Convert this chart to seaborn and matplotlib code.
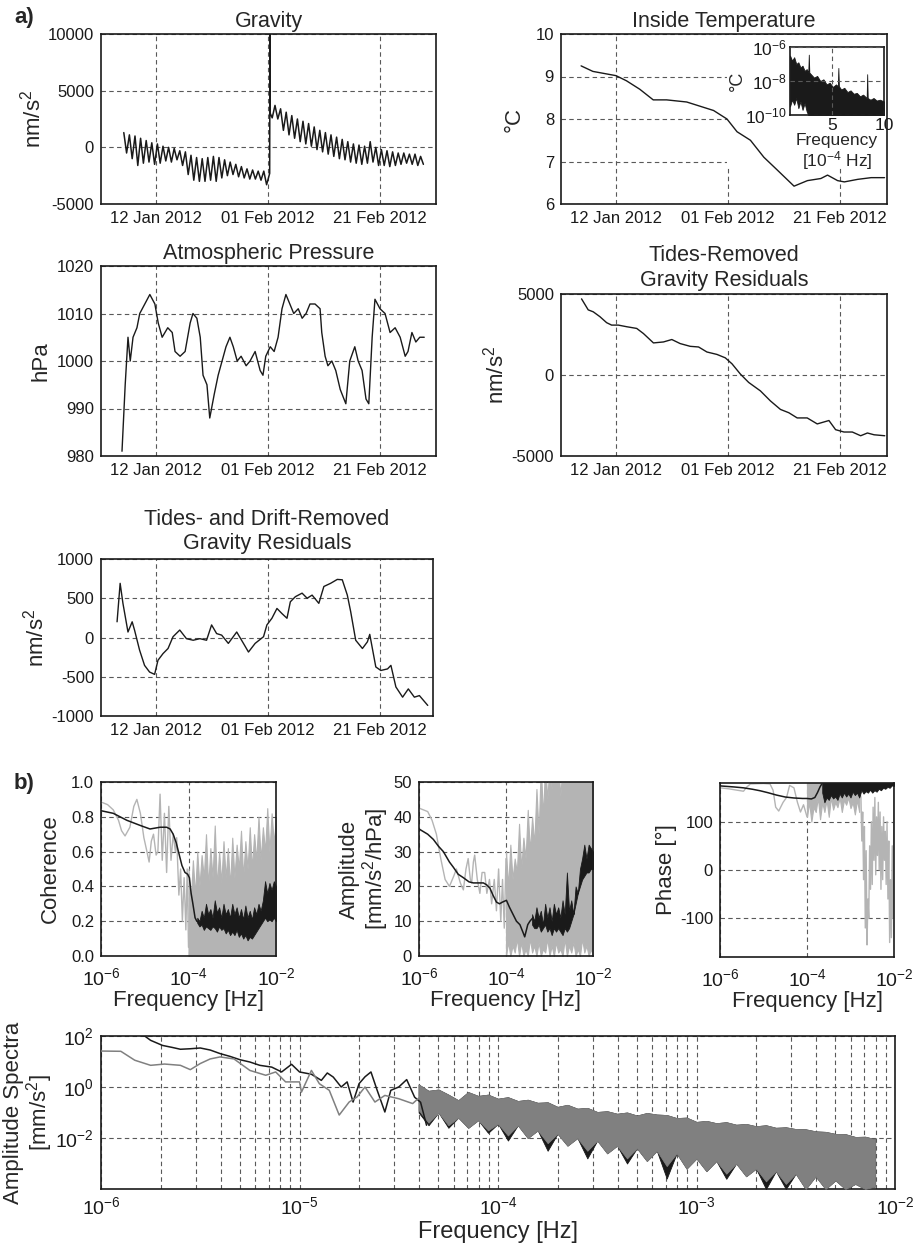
import numpy as np
import pandas as pd
import matplotlib
matplotlib.use("Agg")
import matplotlib.pyplot as plt
import matplotlib.dates as mdates
from matplotlib.ticker import FixedLocator, LogLocator, NullLocator, NullFormatter, FormatStrFormatter
from matplotlib.patches import Rectangle
import seaborn as sns

# ------------------------------------------------------------------ data
REF_DATE = "2012-01-12"          # day offsets below are relative to this date
date_ticks = ["2012-01-12", "2012-02-01", "2012-02-21"]

# Gravity [nm/s^2]: daily tidal peaks / troughs before and after the step
grav_pre_days = list(range(-6, 20))
grav_pre_peaks = [1300, 1100, 1000, 800, 600, 400, 300, 100, 0, -100,
                  -300, -400, -700, -900, -1000, -900, -800, -900, -1100, -1300,
                  -1500, -1700, -1900, -2000, -2100, -2100]
grav_pre_troughs = [-500, -1000, -1600, -1400, -1300, -1500, -1400, -1200, -1300, -1100,
                    -1600, -2400, -2900, -3000, -3000, -2900, -3000, -2700, -2500, -2400,
                    -2600, -2700, -2800, -2800, -2900, -3300]
grav_step_t = [20.3, 20.35, 20.4, 20.75]
grav_step_v = [-2300, 10000, 3000, 2600]
grav_post_days = list(range(21, 48))
grav_post_peaks = [3700, 3400, 3100, 2800, 2500, 2300, 2100, 1800, 1500, 1300,
                   1100, 900, 700, 500, 300, 200, 100, 500, 0, -200,
                   -300, -400, -500, -500, -600, -600, -800]
grav_post_troughs = [2500, 1500, 1100, 800, 500, 300, 100, -200, -400, -600,
                     -800, -1000, -1100, -1300, -1400, -1500, -1400, -1300, -1600, -1600,
                     -1700, -1600, -1500, -1400, -1500, -1600, -1500]

# Inside temperature [degC]
temp_t = [-6.23, -4.13, 0, 1.86, 4.25, 6.65, 9.04, 12.63, 15.03, 17.43, 19.82, 21.62,
          24.01, 26.41, 28.8, 31.8, 34.19, 36.59, 37.78, 39.58, 40.78, 43.17, 45.57, 47.96]
temp_v = [9.25, 9.12, 9.02, 8.9, 8.7, 8.45, 8.45, 8.4, 8.3, 8.2, 8.0, 7.7,
          7.5, 7.1, 6.8, 6.42, 6.55, 6.6, 6.68, 6.55, 6.52, 6.58, 6.62, 6.62]

# Inset: temperature spectrum (freq in 1e-4 Hz, log10 of degC) envelopes
inset_f = [1.0, 1.2, 1.4, 1.6, 1.8, 2.0, 2.2, 2.4, 2.6, 2.75, 2.8, 2.85, 3.0, 3.3, 3.6,
           3.9, 4.2, 4.5, 4.8, 5.1, 5.4, 5.58, 5.63, 5.68, 5.9, 6.2, 6.5, 6.8, 7.1, 7.4,
           7.7, 8.0, 8.34, 8.39, 8.44, 8.7, 9.0, 9.3, 9.6, 10.0]
inset_hi = [-6.5, -6.8, -6.6, -7.0, -6.9, -7.2, -7.1, -7.4, -7.3, -7.5, -6.45, -7.5, -7.6, -7.8, -7.7,
            -8.0, -7.9, -8.2, -8.1, -8.35, -8.2, -8.3, -7.23, -8.3, -8.5, -8.4, -8.65, -8.55, -8.75, -8.7,
            -8.9, -8.8, -9.0, -7.6, -9.0, -9.1, -9.0, -9.15, -9.1, -9.2]
inset_lo = [-9.5, -9.1, -9.4, -9.0, -9.6, -9.2, -9.7, -9.3, -9.8, -10, -10, -10, -10, -10, -10,
            -10, -10, -10, -10, -10, -10, -10, -10, -10, -10, -10, -10, -10, -10, -10,
            -10, -10, -10, -10, -10, -10, -10, -10, -10, -10]

# Atmospheric pressure [hPa]
pres_t = [-6.07, -5.5, -5.0, -4.6, -4.1, -3.4, -2.9, -2.0, -1.1, -0.2, 0.4, 1.1, 2.1, 2.9, 3.4,
          4.3, 5.2, 6.1, 6.6, 7.3, 7.9, 8.4, 9.1, 9.6, 10.4, 11.1, 11.8, 12.5, 13.2, 13.8,
          14.5, 15.2, 16.1, 16.8, 17.7, 18.6, 19.1, 19.6, 20.4, 21.1, 21.8, 22.5, 23.2, 23.9, 24.6,
          25.4, 26.1, 26.8, 27.5, 28.4, 29.3, 29.6, 30.2, 30.7, 31.4, 32.1, 32.9, 33.9, 34.6, 35.5,
          36.1, 36.8, 37.5, 38.0, 38.6, 39.1, 40.0, 40.9, 41.8, 42.7, 43.6, 44.5, 45.0, 45.7, 46.4,
          47.1, 47.9]
pres_v = [981, 995, 1005, 1000, 1005, 1007, 1010, 1012, 1014, 1012, 1008, 1005, 1007, 1006, 1002,
          1001, 1002, 1008, 1010, 1009, 1005, 997, 995, 988, 993, 997, 1000, 1003, 1005, 1003,
          1000, 1001, 999, 1000, 1002, 998, 997, 1001, 1003, 1002, 1005, 1011, 1014, 1012, 1010,
          1011, 1009, 1010, 1012, 1012, 1011, 1006, 1001, 999, 1000, 998, 994, 991, 1000, 1003,
          1000, 998, 992, 991, 1005, 1013, 1011, 1010, 1006, 1007, 1005, 1001, 1002, 1006, 1004,
          1005, 1005]

# Tides-removed gravity residuals [nm/s^2]
tr_t = [-6.15, -4.96, -4.06, -2.87, -1.67, -0.78, 0.42, 1.91, 3.7, 4.9, 6.69, 8.48, 9.97, 11.46,
        13.25, 14.75, 16.24, 18.03, 19.52, 20.72, 22.21, 23.7, 25.79, 27.58, 29.37, 30.87, 32.36,
        34.15, 35.94, 38.03, 39.22, 40.72, 42.21, 43.7, 44.9, 46.09, 48.0]
tr_v = [4700, 4020, 3900, 3600, 3230, 3080, 3080, 2980, 2875, 2560, 1980, 2040, 2190, 1940,
        1770, 1730, 1420, 1270, 1060, 690, 60, -460, -980, -1600, -2125, -2330, -2650,
        -2650, -3020, -2810, -3375, -3520, -3520, -3750, -3580, -3690, -3750]

# Tides- and drift-removed gravity residuals [nm/s^2]
td_t = [-6.95, -6.4, -5.9, -5.0, -4.25, -3.83, -2.93, -2.04, -1.14, -0.24, 0.36, 1.26, 2.16, 3.05,
        4.25, 5.45, 6.65, 7.84, 9.04, 9.94, 10.84, 11.74, 12.93, 14.43, 15.63, 16.53, 17.72, 19.22,
        19.82, 20.72, 21.62, 22.51, 23.41, 24.01, 24.91, 26.11, 27.01, 27.9, 29.1, 30.0, 31.2, 32.4,
        33.29, 34.19, 34.79, 35.69, 36.89, 37.78, 38.2, 39.28, 40.18, 41.38, 41.98, 42.87, 44.07,
        45.09, 46.17, 47.07, 48.56]
td_v = [200, 690, 435, 70, 200, 95, -160, -355, -440, -470, -290, -205, -140, 10,
        95, -15, -35, -15, -35, 160, 50, 30, -75, 70, -75, -185, -75, 10,
        160, 245, 370, 305, 245, 455, 520, 565, 500, 540, 435, 650, 690, 740,
        735, 540, 330, -35, -140, -55, 40, -375, -420, -400, -355, -630, -760,
        -655, -760, -740, -865]

# ---- b) transfer function (frequencies as log10 Hz)
coh_gray_lf = [-6.0, -5.85, -5.72, -5.6, -5.53, -5.45, -5.34, -5.25, -5.18, -5.1, -5.02, -4.95,
               -4.9, -4.85, -4.8, -4.74, -4.7, -4.65, -4.6, -4.55, -4.5, -4.45, -4.4, -4.35,
               -4.3, -4.27, -4.22, -4.18, -4.14, -4.1, -4.06, -4.03, -4.0]
coh_gray_v = [0.885, 0.87, 0.84, 0.78, 0.72, 0.69, 0.74, 0.86, 0.9, 0.82, 0.68, 0.6,
              0.54, 0.66, 0.7, 0.58, 0.6, 0.93, 0.55, 0.82, 0.48, 0.86, 0.55, 0.7,
              0.6, 0.68, 0.35, 0.5, 0.2, 0.45, 0.15, 0.5, 0.05]
coh_gray_band_range = (-4.0, -2.0)
coh_gray_band_hi = [0.5, 0.3, 0.55, 0.35, 0.6, 0.4, 0.58, 0.45, 0.7, 0.4, 0.62, 0.45, 0.75, 0.4,
                    0.6, 0.42, 0.66, 0.45, 0.62, 0.4, 0.68, 0.45, 0.64, 0.5, 0.72, 0.45, 0.66,
                    0.5, 0.74, 0.5, 0.7, 0.55, 0.8, 0.55, 0.74, 0.6, 0.85, 0.6, 0.82, 0.65, 0.8]
coh_blk_lf = [-6.0, -5.72, -5.41, -5.1, -4.88, -4.65, -4.5, -4.42, -4.35, -4.28, -4.23, -4.15,
              -4.08, -4.02, -3.98, -3.94, -3.9, -3.85, -3.81, -3.75]
coh_blk_v = [0.835, 0.82, 0.78, 0.75, 0.73, 0.74, 0.74, 0.73, 0.7, 0.65, 0.6, 0.52,
             0.48, 0.47, 0.45, 0.36, 0.3, 0.22, 0.2, 0.19]
coh_blk_band_range = (-3.8, -2.0)
coh_blk_band_hi = [0.22, 0.2, 0.26, 0.22, 0.3, 0.24, 0.27, 0.22, 0.32, 0.25, 0.28, 0.22, 0.3,
                   0.24, 0.27, 0.22, 0.3, 0.24, 0.28, 0.22, 0.27, 0.21, 0.29, 0.22, 0.26, 0.21,
                   0.28, 0.24, 0.3, 0.26, 0.32, 0.43, 0.36, 0.42, 0.38, 0.43, 0.4]
coh_blk_band_lo = [0.19, 0.17, 0.18, 0.15, 0.17, 0.16, 0.15, 0.17, 0.16, 0.14, 0.17, 0.15, 0.16,
                   0.13, 0.15, 0.12, 0.14, 0.12, 0.15, 0.11, 0.13, 0.1, 0.12, 0.09, 0.11, 0.1,
                   0.12, 0.14, 0.16, 0.18, 0.2, 0.22, 0.2, 0.21, 0.2, 0.22, 0.2]

amp_gray_lf = [-6.0, -5.8, -5.7, -5.6, -5.5, -5.4, -5.3, -5.2, -5.14, -5.05, -4.98, -4.92,
               -4.87, -4.82, -4.79, -4.75, -4.72, -4.66, -4.6, -4.55, -4.49, -4.44, -4.38,
               -4.33, -4.27, -4.22, -4.17, -4.12, -4.08, -4.04, -4.0]
amp_gray_v = [42.5, 41.5, 39, 35, 28, 22, 20, 23, 25, 21, 19, 25,
              28, 22, 21, 27, 29, 22, 18, 24, 24, 18, 22,
              15, 22, 13, 25, 10, 22, 8, 28]
amp_gray_band_range = (-4.0, -2.0)
amp_gray_band_hi = [30, 20, 32, 22, 28, 24, 38, 25, 34, 28, 42, 30, 40, 32, 48, 35, 55, 40,
                    55, 45, 55, 48, 55, 50, 55, 46, 55, 50, 55, 48, 55, 52, 55, 50, 55, 52,
                    55, 50, 55, 52, 55]
amp_gray_band_lo = [0, 4, 0, 3, 1, 5, 0, 4, 0, 2, 0, 5, 1, 3, 0, 4, 0, 2, 1, 5, 0, 3, 0, 4,
                    1, 2, 0, 5, 0, 3, 1, 4, 0, 2, 0, 5, 1, 3, 0, 2, 0]
amp_blk_lf = [-6.0, -5.8, -5.67, -5.55, -5.44, -5.3, -5.21, -5.1, -4.98, -4.85, -4.75, -4.6,
              -4.52, -4.45, -4.37, -4.3, -4.22, -4.15, -4.08, -3.99, -3.92, -3.84, -3.76,
              -3.68, -3.6, -3.57, -3.5, -3.45, -3.38]
amp_blk_v = [36.5, 35, 33.5, 31.5, 30, 27, 25.5, 23.5, 22.5, 21.3, 21, 21,
             21, 20.5, 19.5, 17.5, 15.5, 15, 15.5, 16, 14, 12, 10,
             9, 6.5, 5.5, 9, 10, 11]
amp_blk_band_range = (-3.4, -2.0)
amp_blk_band_hi = [12, 10, 14, 11, 13, 9, 15, 11, 14, 10, 15, 12, 14, 11, 16, 12, 24, 13, 16,
                   12, 20, 18, 25, 28, 32, 28, 32, 31, 30]
amp_blk_band_lo = [9, 8, 8, 9, 7, 8, 9, 7, 8, 6, 8, 7, 8, 7, 6, 8, 7, 8, 10, 12, 15, 18, 20,
                   22, 23, 24, 24, 25, 25]

ph_blk_lf = [-6.0, -5.7, -5.46, -5.25, -5.08, -4.9, -4.7, -4.5, -4.3, -4.1, -4.0, -3.9,
             -3.82, -3.76, -3.7, -3.66]
ph_blk_v = [174, 172, 170, 167, 164, 160, 155, 151, 149, 148, 148, 147,
            150, 160, 172, 178]
ph_blk_band_range = (-3.65, -2.0)
ph_blk_band_lo = [160, 140, 150, 145, 155, 148, 152, 145, 158, 150, 160, 152, 158, 150, 162,
                  155, 160, 150, 165, 158, 163, 160, 166, 160, 165, 162, 168, 165, 170, 168,
                  172, 170, 175, 174]
ph_gray_lf = [-6.0, -5.8, -5.6, -5.46, -5.38, -5.3, -5.0, -4.85, -4.78, -4.72, -4.65, -4.55,
              -4.47, -4.4, -4.3, -4.22, -4.15, -4.08, -4.0]
ph_gray_v = [170, 168, 165, 163, 172, 178, 179, 178, 165, 130, 122, 140,
             150, 175, 170, 140, 120, 135, 110]
ph_gray_band_range = (-4.0, -2.8)
ph_gray_band_lo = [110, 140, 100, 130, 120, 150, 105, 140, 120, 145, 110, 150, 125, 140, 130,
                   150, 120, 145, 135, 150, 128, 140, 115, 145, 120]
ph_gray_hf_lf = [-2.8, -2.76, -2.74, -2.72, -2.70, -2.68, -2.66, -2.64, -2.62, -2.60, -2.58,
                 -2.56, -2.54, -2.52, -2.50, -2.48, -2.46, -2.44, -2.42, -2.40, -2.38, -2.36,
                 -2.34, -2.32, -2.30, -2.28, -2.26, -2.24, -2.22, -2.20, -2.18, -2.16, -2.14,
                 -2.12, -2.10, -2.08, -2.06, -2.04, -2.02, -2.00]
ph_gray_hf_v = [170, 150, 60, 120, -20, 90, -120, 40, -155, -60, -100,
                50, -40, 100, -30, 130, 20, 150, -10, 110, 30, 140,
                0, 120, -40, 90, -20, 110, 20, 80, -30, 100, -60,
                60, -150, -20, -140, 50, -100, 170]

# ---- bottom: amplitude spectra (log10 Hz, log10 mm/s^2)
spec_blk_lf = [-5.85, -5.78, -5.75, -5.69, -5.64, -5.6, -5.55, -5.5, -5.45, -5.4, -5.35, -5.3,
               -5.25, -5.2, -5.14, -5.09, -5.04, -5.0, -4.94, -4.89, -4.86, -4.83, -4.79, -4.76,
               -4.73, -4.7, -4.67, -4.64, -4.61, -4.57, -4.54, -4.5, -4.46, -4.42, -4.39, -4.36]
spec_blk_v = [2.15, 2.0, 1.83, 1.63, 1.55, 1.48, 1.5, 1.53, 1.45, 1.31, 1.2, 1.07,
              0.98, 0.85, 0.78, 0.59, 0.89, 0.59, 0.5, 0.26, 0.55, 0.39, 0.0, 0.2,
              -0.59, 0.13, 0.4, 0.59, -0.1, -0.98, -0.13, 0.0, 0.29, -0.4, -0.6, -1.5]
spec_gray_lf = [-6.0, -5.9, -5.83, -5.75, -5.68, -5.6, -5.55, -5.5, -5.45, -5.4, -5.33, -5.25,
                -5.17, -5.12, -5.07, -5.0, -4.99, -4.94, -4.9, -4.85, -4.8, -4.75, -4.71,
                -4.67, -4.62, -4.57, -4.5, -4.43, -4.38, -4.33]
spec_gray_v = [1.41, 1.4, 1.05, 0.85, 0.9, 0.85, 0.68, 0.92, 1.1, 1.18, 1.1, 0.65,
               0.46, 0.59, 0.2, 0.2, -0.2, 0.65, 0.13, -0.13, -1.1, -0.59, -0.39,
               0.0, -0.59, -0.33, -0.46, -0.65, -0.3, -1.0]
spec_band_range = (-4.4, -2.1)
spec_band_hi = [0.1, -0.15, -0.1, -0.3, -0.52, -0.2, -0.35, -0.3, -0.46, -0.4, -0.55, -0.5,
                -0.62, -0.6, -0.78, -0.7, -0.85, -0.82, -0.98, -0.95, -1.05, -1.0, -1.12,
                -1.02, -1.08, -1.1, -1.22, -1.2, -1.37, -1.33, -1.42, -1.38, -1.48, -1.45,
                -1.54, -1.5, -1.6, -1.58, -1.65, -1.66, -1.74, -1.76, -1.84, -1.85, -1.96,
                -1.95, -2.05]
spec_gray_band_lo = [-0.9, -1.4, -1.0, -1.5, -1.2, -1.6, -1.3, -1.7, -1.44, -1.9, -1.5, -2.0,
                     -1.7, -2.2, -1.83, -2.3, -2.0, -2.5, -2.1, -2.6, -2.3, -2.8, -2.4, -2.9,
                     -2.5, -3.1, -2.6, -3.2, -2.8, -3.3, -2.9, -3.4, -3.0, -3.5, -3.2, -3.7,
                     -3.3, -3.8, -3.4, -4.0, -3.5, -4.0, -3.66, -4.0, -3.8, -4.0, -3.9]
spec_blk_band_lo = [-1.0, -1.5, -1.0, -1.6, -1.2, -1.6, -1.3, -1.8, -1.44, -2.1, -1.5, -2.0,
                    -1.7, -2.5, -1.83, -2.3, -2.0, -2.8, -2.1, -2.6, -2.3, -3.0, -2.4, -2.9,
                    -2.5, -3.59, -2.6, -3.2, -2.8, -3.3, -2.9, -3.6, -3.0, -3.5, -3.2, -4.0,
                    -3.3, -4.0, -3.4, -4.0, -3.5, -4.0, -3.66, -4.0, -3.8, -4.0, -3.9]

# ------------------------------------------------------------------ style
sns.set_theme(style="white")
plt.rcParams["font.family"] = ["Liberation Sans", "DejaVu Sans"]
plt.rcParams["mathtext.fontset"] = "custom"
plt.rcParams["mathtext.rm"] = "Liberation Sans"
plt.rcParams["mathtext.it"] = "Liberation Sans:italic"
plt.rcParams["mathtext.bf"] = "Liberation Sans:bold"
plt.rcParams["axes.unicode_minus"] = False

W, H = 916, 1244
fig = plt.figure(figsize=(W / 100, H / 100), dpi=100)
GRID = dict(color="0.35", linewidth=0.8, linestyle=(0, (4, 3)))
LIGHT = "#b4b4b4"
MID = "#808080"
ref = pd.Timestamp(REF_DATE)


def add_ax(l, t, r, b):
    return fig.add_axes([l / W, 1 - b / H, (r - l) / W, (b - t) / H])


def to_dates(t):
    return ref + pd.to_timedelta(np.asarray(t, dtype=float), unit="D")


def base_style(ax, lsize=12):
    for s in ax.spines.values():
        s.set_color("k")
        s.set_linewidth(1.2)
    ax.tick_params(length=0, labelsize=lsize, pad=5, colors="k")
    ax.set_axisbelow(True)


def date_axis(ax, left_days, right_days):
    ax.set_xlim(ref + pd.Timedelta(days=left_days), ref + pd.Timedelta(days=right_days))
    ax.xaxis.set_major_locator(FixedLocator(mdates.date2num(pd.to_datetime(date_ticks))))
    ax.xaxis.set_major_formatter(mdates.DateFormatter("%d %b %Y"))
    ax.grid(True, **GRID)


def line(ax, x, y, color="k", lw=1.0, z=2):
    sns.lineplot(x=x, y=y, ax=ax, color=color, linewidth=lw, sort=False,
                 estimator=None, zorder=z, legend=False)


def F(lf):
    return 10.0 ** np.asarray(lf, dtype=float)


def grid_of(rng, vals):
    # sample positions (log10 Hz) of an evenly spaced band
    return F(np.linspace(rng[0], rng[1], len(vals)))


# ------------------------------------------------------------------ a) Gravity
ax = add_ax(101, 34, 436, 204)
base_style(ax)
g_t, g_v = [], []
for d, p, q in zip(grav_pre_days, grav_pre_peaks, grav_pre_troughs):
    g_t += [d + 0.25, d + 0.75]
    g_v += [p, q]
g_t += grav_step_t
g_v += grav_step_v
for d, p, q in zip(grav_post_days, grav_post_peaks, grav_post_troughs):
    g_t += [d + 0.25, d + 0.75]
    g_v += [p, q]
line(ax, to_dates(g_t), g_v, lw=1.1)
date_axis(ax, -9.82, 50.0)
ax.set_ylim(-5000, 10000)
ax.set_yticks([-5000, 0, 5000, 10000])
ax.set_title("Gravity", fontsize=15.5, pad=5)
ax.set_ylabel("nm/s$^2$", fontsize=16, labelpad=2)
ax.set_xlabel("")

# ------------------------------------------------------------------ Inside temperature
ax = add_ax(561, 34, 887, 204)
base_style(ax)
line(ax, to_dates(temp_t), temp_v, lw=1.0)
date_axis(ax, -9.82, 48.4)
ax.set_ylim(6, 10)
ax.set_yticks([6, 7, 8, 9, 10])
ax.add_patch(Rectangle((0.509, 0.22), 0.49, 0.775, transform=ax.transAxes,
                       facecolor="white", edgecolor="none", zorder=1))
ax.set_title("Inside Temperature", fontsize=15.5, pad=5)
ax.set_ylabel("°C", fontsize=16, labelpad=8)
ax.set_xlabel("")

axi = add_ax(790, 47, 884, 115)
base_style(axi, lsize=12.5)
axi.set_yscale("log")
axi.fill_between(np.asarray(inset_f), F(inset_lo), F(inset_hi),
                 color="k", linewidth=0.6, zorder=2)
axi.set_xlim(1, 10)
axi.set_ylim(1e-10, 1e-6)
axi.set_xticks([5, 10])
axi.set_yticks([1e-10, 1e-8, 1e-6])
axi.yaxis.set_minor_locator(NullLocator())
axi.grid(True, **GRID)
axi.set_axisbelow(False)
axi.tick_params(pad=2)
axi.set_ylabel("°C", fontsize=13, labelpad=0)
axi.set_xlabel("Frequency\n[10$^{-4}$ Hz]", fontsize=12.5, labelpad=0, linespacing=1.1)

# ------------------------------------------------------------------ Atmospheric pressure
ax = add_ax(101, 266, 436, 456)
base_style(ax)
line(ax, to_dates(pres_t), pres_v, lw=1.0)
date_axis(ax, -9.82, 50.0)
ax.set_ylim(980, 1020)
ax.set_yticks([980, 990, 1000, 1010, 1020])
ax.set_title("Atmospheric Pressure", fontsize=15.5, pad=5)
ax.set_ylabel("hPa", fontsize=16, labelpad=4)
ax.set_xlabel("")

# ------------------------------------------------------------------ Tides-removed residuals
ax = add_ax(561, 294, 887, 456)
base_style(ax)
line(ax, to_dates(tr_t), tr_v, lw=1.0)
date_axis(ax, -9.82, 48.4)
ax.set_ylim(-5000, 5000)
ax.set_yticks([-5000, 0, 5000])
ax.set_title("Tides-Removed\nGravity Residuals", fontsize=15.5, pad=6, linespacing=1.2)
ax.set_ylabel("nm/s$^2$", fontsize=16, labelpad=2)
ax.set_xlabel("")

# ------------------------------------------------------------------ Tides- and drift-removed
ax = add_ax(101, 559, 433, 716)
base_style(ax)
line(ax, to_dates(td_t), td_v, lw=1.0)
date_axis(ax, -9.82, 49.5)
ax.set_ylim(-1000, 1000)
ax.set_yticks([-1000, -500, 0, 500, 1000])
ax.set_title("Tides- and Drift-Removed\nGravity Residuals", fontsize=15.5, pad=7, linespacing=1.2)
ax.set_ylabel("nm/s$^2$", fontsize=16, labelpad=2)
ax.set_xlabel("")


# ------------------------------------------------------------------ b) panels
def freq_axis(ax):
    ax.set_xscale("log")
    ax.set_xlim(1e-6, 1e-2)
    ax.set_xticks([1e-6, 1e-4, 1e-2])
    ax.xaxis.set_minor_locator(NullLocator())
    ax.tick_params(axis="x", labelsize=14, pad=8)
    ax.tick_params(axis="y", labelsize=12)
    ax.grid(True, which="major", **GRID)
    ax.set_xlabel("Frequency [Hz]", fontsize=16, labelpad=1)


# Coherence
ax = add_ax(101, 782, 276, 956)
base_style(ax)
line(ax, F(coh_gray_lf), coh_gray_v, color=LIGHT, lw=1.0)
ax.fill_between(grid_of(coh_gray_band_range, coh_gray_band_hi), 0, coh_gray_band_hi,
                color=LIGHT, linewidth=0.8, zorder=2)
line(ax, F(coh_blk_lf), coh_blk_v, color="k", lw=1.1, z=3)
ax.fill_between(grid_of(coh_blk_band_range, coh_blk_band_hi), coh_blk_band_lo, coh_blk_band_hi,
                color="k", linewidth=0.6, zorder=3)
freq_axis(ax)
ax.set_ylim(0, 1)
ax.set_yticks([0, 0.2, 0.4, 0.6, 0.8, 1.0])
ax.yaxis.set_major_formatter(FormatStrFormatter("%.1f"))
ax.set_ylabel("Coherence", fontsize=16, labelpad=7)

# Amplitude
ax = add_ax(419, 782, 593, 956)
base_style(ax)
line(ax, F(amp_gray_lf), amp_gray_v, color=LIGHT, lw=1.0)
ax.fill_between(grid_of(amp_gray_band_range, amp_gray_band_hi), amp_gray_band_lo, amp_gray_band_hi,
                color=LIGHT, linewidth=0.8, zorder=2)
line(ax, F(amp_blk_lf), amp_blk_v, color="k", lw=1.1, z=3)
ax.fill_between(grid_of(amp_blk_band_range, amp_blk_band_hi), amp_blk_band_lo, amp_blk_band_hi,
                color="k", linewidth=0.6, zorder=3)
freq_axis(ax)
ax.set_ylim(0, 50)
ax.set_yticks([0, 10, 20, 30, 40, 50])
ax.set_ylabel("Amplitude\n[mm/s$^2$/hPa]", fontsize=16, labelpad=2, linespacing=1.0)

# Phase
ax = add_ax(720, 783, 894, 957)
base_style(ax)
line(ax, F(ph_gray_lf), ph_gray_v, color=LIGHT, lw=1.0)
ax.fill_between(grid_of(ph_gray_band_range, ph_gray_band_lo), ph_gray_band_lo, 180,
                color=LIGHT, linewidth=0.8, zorder=2)
line(ax, F(ph_gray_hf_lf), ph_gray_hf_v, color=LIGHT, lw=1.0)
line(ax, F(ph_blk_lf), ph_blk_v, color="k", lw=1.1, z=3)
ax.fill_between(grid_of(ph_blk_band_range, ph_blk_band_lo), ph_blk_band_lo, 180,
                color="k", linewidth=0.6, zorder=3)
freq_axis(ax)
ax.set_ylim(-180, 180)
ax.set_yticks([-100, 0, 100])
ax.set_ylabel("Phase [°]", fontsize=16, labelpad=2)

# ------------------------------------------------------------------ bottom spectra
ax = add_ax(101, 1036, 895, 1189)
base_style(ax)
fb = grid_of(spec_band_range, spec_band_hi)
ax.fill_between(fb, F(spec_blk_band_lo), F(spec_band_hi), color="k", linewidth=0.6, zorder=2)
ax.fill_between(fb, F(spec_gray_band_lo), F(spec_band_hi), color=MID, linewidth=0.6, zorder=3)
line(ax, F(spec_blk_lf), F(spec_blk_v), color="k", lw=1.1, z=4)
line(ax, F(spec_gray_lf), F(spec_gray_v), color=MID, lw=1.1, z=4)
ax.set_xscale("log")
ax.set_yscale("log")
ax.set_xlim(1e-6, 1e-2)
ax.set_ylim(1e-4, 1e2)
ax.set_xticks([1e-6, 1e-5, 1e-4, 1e-3, 1e-2])
ax.xaxis.set_minor_locator(LogLocator(base=10, subs=np.arange(2, 10)))
ax.xaxis.set_minor_formatter(NullFormatter())
ax.set_yticks([1e-2, 1e0, 1e2])
ax.yaxis.set_minor_locator(NullLocator())
ax.tick_params(which="both", length=0, labelsize=14, pad=5)
ax.grid(True, which="both", axis="x", **GRID)
ax.grid(True, which="major", axis="y", **GRID)
ax.set_xlabel("Frequency [Hz]", fontsize=17, labelpad=2)
ax.set_ylabel("Amplitude Spectra\n[mm/s$^2$]", fontsize=16, labelpad=0, linespacing=1.0)

# panel letters
fig.text(14 / W, 1 - 18 / H, "a)", fontsize=16, fontweight="bold", va="center", ha="left")
fig.text(14 / W, 1 - 783 / H, "b)", fontsize=16, fontweight="bold", va="center", ha="left")

fig.savefig("out.png", dpi=100)
